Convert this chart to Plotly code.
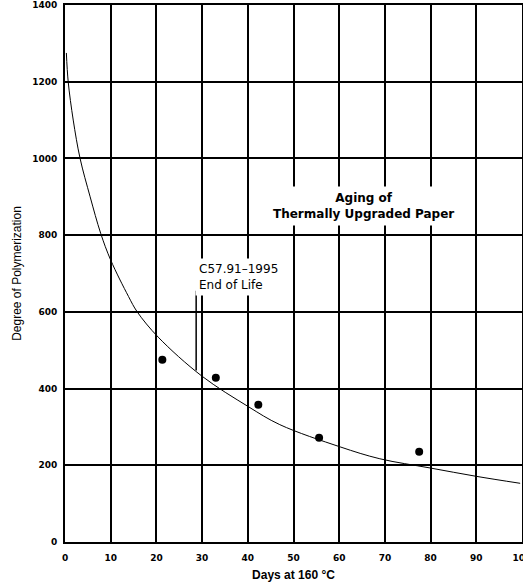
import plotly.graph_objects as go

# Aging curve
curve_days = [0.3, 0.7, 1.8, 3.3, 5.5, 7.8, 10, 13.9, 15.8, 20.4, 29.9, 40.1, 47.0, 60.2, 68.9, 79.9, 90.1, 99.6]
curve_dp = [1275, 1200, 1100, 1000, 900, 805, 735, 640, 600, 534, 433, 353, 306, 248, 217, 193, 171, 153]

# Measured points
point_days = [21.3, 33.0, 42.3, 55.6, 77.5]
point_dp = [475, 428, 358, 272, 235]

# End-of-life marker line
eol_days = [28.7, 28.7]
eol_dp = [447, 655]

x_ticks = [0, 10, 20, 30, 40, 50, 60, 70, 80, 90, 100]
y_ticks = [0, 200, 400, 600, 800, 1000, 1200, 1400]

fig = go.Figure()
fig.add_trace(go.Scatter(x=curve_days, y=curve_dp, mode="lines",
                         line=dict(color="black", width=1, shape="spline", smoothing=1.0),
                         hoverinfo="skip", showlegend=False))
fig.add_trace(go.Scatter(x=eol_days, y=eol_dp, mode="lines",
                         line=dict(color="black", width=1.5), showlegend=False))
fig.add_trace(go.Scatter(x=point_days, y=point_dp, mode="markers",
                         marker=dict(color="black", size=8, symbol="circle"),
                         showlegend=False))

fig.add_annotation(x=28.4, y=692, xref="x", yref="y", text="C57.91\u20131995<br>End of Life",
                   showarrow=False, xanchor="left", yanchor="middle", align="left",
                   bgcolor="white", borderpad=3,
                   font=dict(family="DejaVu Sans", size=12, color="black"))
fig.add_annotation(x=65.4, y=877, xref="x", yref="y", text="Aging of<br>Thermally Upgraded Paper",
                   showarrow=False, xanchor="center", yanchor="middle", align="center",
                   bgcolor="white", borderpad=4,
                   font=dict(family="DejaVu Sans", size=12, color="black", weight="bold"))

tickfont = dict(family="DejaVu Sans", size=9, color="black", weight="bold")

fig.update_xaxes(range=[0, 100], tickvals=x_ticks, ticktext=[str(v) for v in x_ticks],
                 showgrid=True, gridcolor="black", gridwidth=2,
                 showline=True, linecolor="black", linewidth=2, mirror=True,
                 zeroline=False, ticks="", tickfont=tickfont, ticklabelstandoff=6,
                 ticklabeloverflow="allow", automargin=False,
                 title=dict(text="Days at 160 \u00b0C", standoff=9,
                            font=dict(family="Liberation Sans, Arial", size=12, color="black", weight="bold")))
fig.update_yaxes(range=[0, 1400], tickvals=y_ticks, ticktext=[str(v) for v in y_ticks],
                 showgrid=True, gridcolor="black", gridwidth=2,
                 showline=True, linecolor="black", linewidth=2, mirror=True,
                 zeroline=False, ticks="", tickfont=tickfont, ticklabelstandoff=4,
                 ticklabeloverflow="allow", automargin=False,
                 title=dict(text="Degree of Polymerization", standoff=8,
                            font=dict(family="Liberation Sans Narrow, Liberation Sans, Arial", size=12, color="black")))

fig.update_layout(width=523, height=586, margin=dict(l=65, r=1, t=5, b=44),
                  plot_bgcolor="white", paper_bgcolor="white")

fig.write_html("out.html")
